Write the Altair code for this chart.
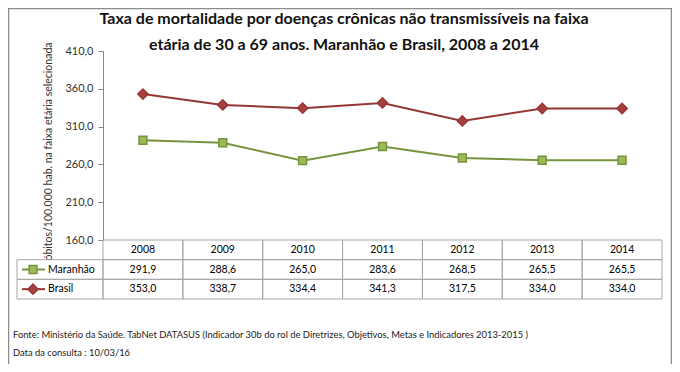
import altair as alt
import pandas as pd

years = [2008, 2009, 2010, 2011, 2012, 2013, 2014]
series = ["Maranhão", "Brasil"]
maranhao = [291.9, 288.6, 265.0, 283.6, 268.5, 265.5, 265.5]
brasil = [353.0, 338.7, 334.4, 341.3, 317.5, 334.0, 334.0]
y_ticks = [160, 210, 260, 310, 360, 410]
title_lines = [
    "Taxa de mortalidade por doenças crônicas não transmissíveis na faixa",
    "etária de 30 a 69 anos. Maranhão e Brasil, 2008 a 2014",
]
y_title = "óbitos/100.000 hab. na faixa etária selecionada"
source_lines = [
    "Fonte: Ministério da Saúde. TabNet DATASUS (Indicador 30b do rol de Diretrizes, Objetivos, Metas e Indicadores 2013-2015 )",
    "Data da consulta : 10/03/16",
]

line_colors = ["#77933C", "#953735"]
fill_colors = ["#9BBB59", "#A5403D"]
shapes = ["square", "diamond"]
sizes = [62, 105]
rows = ["header"] + series

rec = []
for s, vals in zip(series, [maranhao, brasil]):
    for y, v in zip(years, vals):
        rec.append({"year": y, "serie": s, "value": v,
                    "label": f"{v:.1f}".replace(".", ","),
                    "x0": y - 0.5, "x1": y + 0.5})
df = pd.DataFrame(rec)
hdr = pd.DataFrame({"year": years, "row": ["header"] * len(years),
                    "x0": [y - 0.5 for y in years], "x1": [y + 0.5 for y in years],
                    "ylab": [str(y) for y in years]})
sdf = pd.DataFrame({"serie": series})

FONT = "Lato"
GRID = "#A6A6A6"

xs = alt.Scale(domain=[2007.5, 2014.5], nice=False, zero=False)
ys = alt.Scale(domain=[160, 410], nice=False, zero=False)
rs = alt.Scale(type="band", domain=rows, range=[189, 248], paddingInner=0, paddingOuter=0)
px = alt.Scale(domain=[0, 1], range=[0, 1])
col = alt.Color("serie:N", scale=alt.Scale(domain=series, range=line_colors), legend=None)
stroke = alt.Stroke("serie:N", scale=alt.Scale(domain=series, range=line_colors), legend=None)
fill = alt.Fill("serie:N", scale=alt.Scale(domain=series, range=fill_colors), legend=None)
shape = alt.Shape("serie:N", scale=alt.Scale(domain=series, range=shapes), legend=None)
size = alt.Size("serie:N", scale=alt.Scale(domain=series, range=sizes), legend=None)

yaxis = alt.Axis(values=y_ticks, grid=False,
                 labelExpr="replace(format(datum.value, '.1f'), '.', ',')",
                 domainColor="#868686", tickColor="#868686", tickSize=5,
                 labelPadding=5, labelFont=FONT, labelFontSize=11, labelColor="#333333",
                 title=y_title, titleFont=FONT, titleFontSize=10.5, titleFontWeight="normal",
                 titleColor="#333333", titlePadding=11, titleY=100)

lines = alt.Chart(df).mark_line(strokeWidth=2).encode(
    x=alt.X("year:Q", scale=xs, axis=None),
    y=alt.Y("value:Q", scale=ys, axis=yaxis),
    color=col,
)
points = alt.Chart(df).mark_point(opacity=1, strokeWidth=1.5).encode(
    x=alt.X("year:Q", scale=xs, axis=None),
    y=alt.Y("value:Q", scale=ys, axis=None),
    shape=shape, fill=fill, stroke=stroke, size=size,
)

cells = alt.Chart(df).mark_rect(fillOpacity=0, stroke=GRID, strokeWidth=1).encode(
    x=alt.X("x0:Q", scale=xs, axis=None), x2="x1:Q",
    y=alt.Y("serie:N", scale=rs, axis=None),
)
hcells = alt.Chart(hdr).mark_rect(fillOpacity=0, stroke=GRID, strokeWidth=1).encode(
    x=alt.X("x0:Q", scale=xs, axis=None), x2="x1:Q",
    y=alt.Y("row:N", scale=rs, axis=None),
)
htext = alt.Chart(hdr).mark_text(font=FONT, fontSize=10.5, color="#000000").encode(
    x=alt.X("year:Q", scale=xs, axis=None),
    y=alt.Y("row:N", scale=rs, axis=None, bandPosition=0.5),
    text="ylab:N",
)
vtext = alt.Chart(df).mark_text(font=FONT, fontSize=10.5, color="#000000").encode(
    x=alt.X("year:Q", scale=xs, axis=None),
    y=alt.Y("serie:N", scale=rs, axis=None, bandPosition=0.5),
    text="label:N",
)
lcells = alt.Chart(sdf).mark_rect(fillOpacity=0, stroke=GRID, strokeWidth=1).encode(
    x=alt.value(-86), x2=alt.value(0),
    y=alt.Y("serie:N", scale=rs, axis=None),
)
lrule = alt.Chart(sdf).mark_rule(strokeWidth=2).encode(
    x=alt.value(-81), x2=alt.value(-58),
    y=alt.Y("serie:N", scale=rs, axis=None, bandPosition=0.5),
    color=col,
)
lpoint = alt.Chart(sdf).mark_point(opacity=1, strokeWidth=1.5).encode(
    x=alt.value(-70),
    y=alt.Y("serie:N", scale=rs, axis=None, bandPosition=0.5),
    shape=shape, fill=fill, stroke=stroke, size=size,
)
ltext = alt.Chart(sdf).mark_text(font=FONT, fontSize=10.5, align="left", color="#000000").encode(
    x=alt.value(-55),
    y=alt.Y("serie:N", scale=rs, axis=None, bandPosition=0.5),
    text="serie:N",
)

tdf = pd.DataFrame({"t": title_lines, "yy": [-27, -1]})
titles = alt.Chart(tdf).mark_text(font=FONT, fontSize=16, fontWeight="bold",
                                  align="center", baseline="alphabetic", color="#111111").encode(
    x=alt.value(241),
    y=alt.Y("yy:Q", scale=px, axis=None),
    text="t:N",
)

fdf = pd.DataFrame({"t": source_lines, "yy": [287, 305]})
foot = alt.Chart(fdf).mark_text(font=FONT, fontSize=9.4, align="left",
                                baseline="alphabetic", color="#222222").encode(
    x=alt.value(-90),
    y=alt.Y("yy:Q", scale=px, axis=None),
    text="t:N",
)

border = alt.Chart(sdf.head(1)).mark_rect(fillOpacity=0, stroke="#8C8C8C", strokeWidth=1.5).encode(
    x=alt.value(-94.5), x2=alt.value(568.5), y=alt.value(-42.5), y2=alt.value(355),
)

chart = alt.layer(
    border, lines, points, hcells, cells, lcells, htext, vtext,
    lrule, lpoint, ltext, titles, foot,
).resolve_scale(y="independent").properties(
    width=559, height=189, autosize="none",
    padding={"left": 95, "top": 43, "right": 10, "bottom": 124},
).configure_view(strokeWidth=0)

chart.save("out.html", embed_options={"renderer": "svg", "actions": False})
